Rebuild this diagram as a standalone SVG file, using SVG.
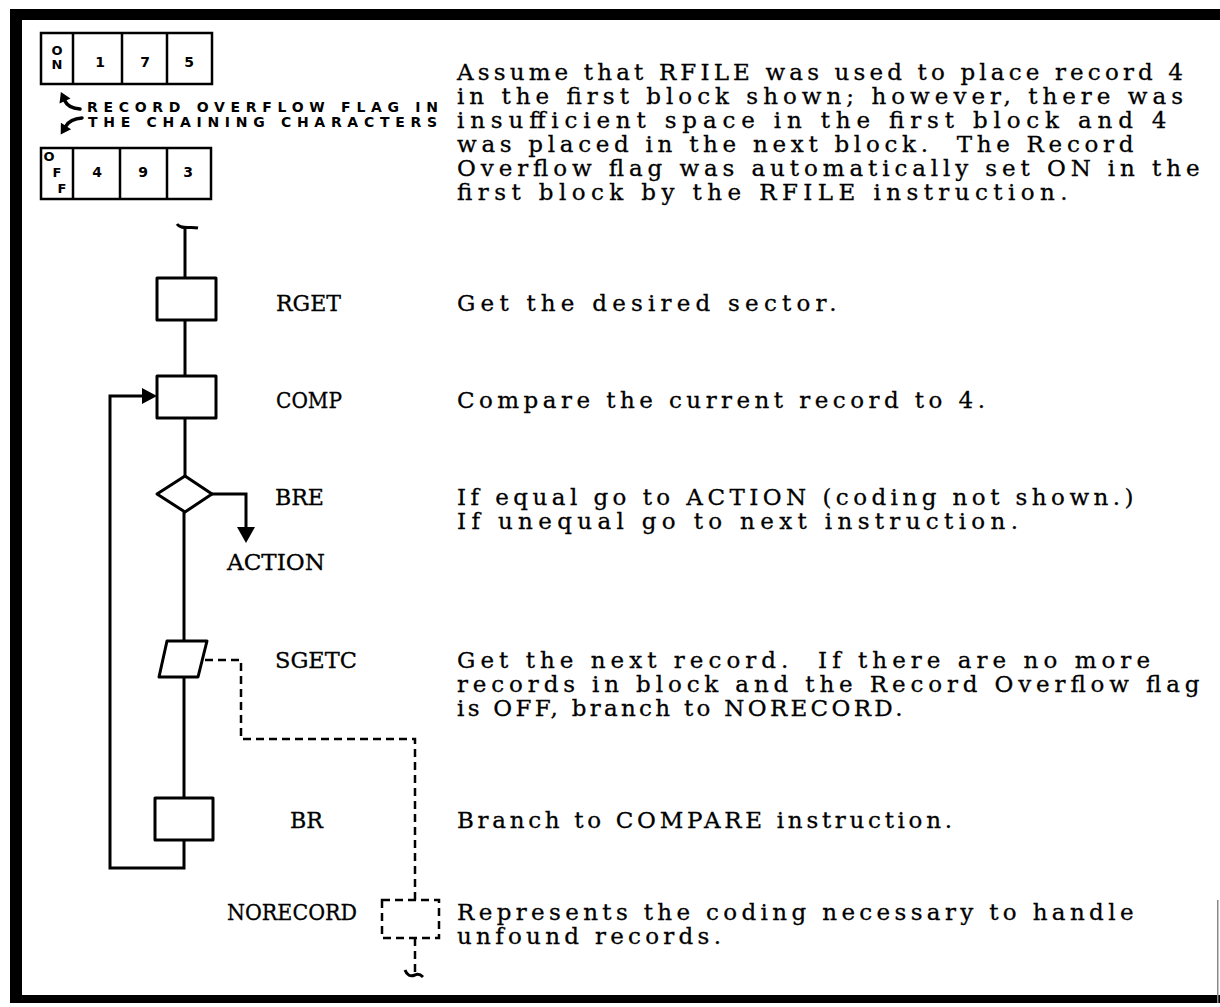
<svg xmlns="http://www.w3.org/2000/svg" width="1220" height="1007" viewBox="0 0 1220 1007">
  <style>
    .mono { font-family: "DejaVu Serif", "Liberation Serif", serif; font-size: 23px; fill: #000; stroke: #000; stroke-width: 0.3; white-space: pre; }
    .cap { font-family: "DejaVu Sans", "Liberation Sans", sans-serif; font-weight: bold; fill: #000; }
    .note { font-family: "DejaVu Sans", "Liberation Sans", sans-serif; font-weight: bold; font-size: 14px; fill: #000; }
    .box { fill: #fff; stroke: #000; stroke-width: 3; stroke-linejoin: round; }
    .cell { fill: #fff; stroke: #000; stroke-width: 2.5; }
    .line { fill: none; stroke: #000; stroke-width: 3; }
    .ptr { fill: none; stroke: #000; stroke-width: 3.5; stroke-linecap: round; }
    .dash { fill: none; stroke: #000; stroke-width: 2.5; stroke-dasharray: 8 5; }
  </style>

  <rect width="1220" height="1007" fill="#fff"/>

  <!-- page frame -->
  <g id="frame" fill="#000">
    <rect x="10" y="9" width="1210" height="11"/>
    <rect x="10" y="9" width="12" height="994"/>
    <rect x="10" y="995" width="1210" height="8"/>
    <rect x="1217" y="900" width="1.5" height="103" fill="#888"/>
  </g>

  <!-- chaining characters of the first block -->
  <g id="block-on">
    <rect class="cell" x="41" y="33" width="171" height="51"/>
    <line class="cell" x1="73" y1="33" x2="73" y2="84"/>
    <line class="cell" x1="122" y1="33" x2="122" y2="84"/>
    <line class="cell" x1="167" y1="33" x2="167" y2="84"/>
    <text class="cap" x="57" y="55" font-size="13" text-anchor="middle">O</text>
    <text class="cap" x="57" y="69" font-size="13" text-anchor="middle">N</text>
    <text class="cap" x="100" y="67" font-size="14" text-anchor="middle">1</text>
    <text class="cap" x="145" y="67" font-size="14" text-anchor="middle">7</text>
    <text class="cap" x="189" y="67" font-size="14" text-anchor="middle">5</text>
  </g>

  <!-- chaining characters of the next block -->
  <g id="block-off">
    <rect class="cell" x="41" y="148" width="170" height="51"/>
    <line class="cell" x1="73" y1="148" x2="73" y2="199"/>
    <line class="cell" x1="120" y1="148" x2="120" y2="199"/>
    <line class="cell" x1="167" y1="148" x2="167" y2="199"/>
    <text class="cap" x="49" y="161" font-size="13" text-anchor="middle">O</text>
    <text class="cap" x="57" y="177" font-size="13" text-anchor="middle">F</text>
    <text class="cap" x="62" y="193" font-size="13" text-anchor="middle">F</text>
    <text class="cap" x="97" y="177" font-size="14" text-anchor="middle">4</text>
    <text class="cap" x="143" y="177" font-size="14" text-anchor="middle">9</text>
    <text class="cap" x="188" y="177" font-size="14" text-anchor="middle">3</text>
  </g>

  <!-- flag note with its two pointers -->
  <g id="flag-note">
    <text class="note" x="87" y="112" textLength="351" lengthAdjust="spacing">RECORD OVERFLOW FLAG IN</text>
    <text class="note" x="88" y="127" textLength="349" lengthAdjust="spacing">THE CHAINING CHARACTERS</text>
    <path class="ptr" d="M80,109 Q68,108 65,101"/>
    <polygon points="70.5,98.5 59.5,103.5 60.9,91.9" fill="#000"/>
    <path class="ptr" d="M82,118 Q70,119 66,126"/>
    <polygon points="71.1,129.2 60.9,122.8 60.7,134.5" fill="#000"/>
  </g>

  <!-- flowchart nodes -->
  <g id="rget">
    <rect class="box" x="157" y="278" width="59" height="42"/>
    <text class="mono" x="276" y="311" textLength="65" lengthAdjust="spacingAndGlyphs">RGET</text>
  </g>
  <g id="comp">
    <rect class="box" x="157" y="376" width="59" height="42"/>
    <text class="mono" x="276" y="408" textLength="66" lengthAdjust="spacingAndGlyphs">COMP</text>
  </g>
  <g id="bre">
    <polygon class="box" points="185,476 212,494 185,512 157,494"/>
    <text class="mono" x="275" y="505" textLength="49" lengthAdjust="spacingAndGlyphs">BRE</text>
  </g>
  <g id="action">
    <text class="mono" x="227" y="570" textLength="98" lengthAdjust="spacingAndGlyphs">ACTION</text>
  </g>
  <g id="sgetc">
    <polygon class="box" points="167,641 207,641 198,677 159,677"/>
    <text class="mono" x="275" y="668" textLength="82" lengthAdjust="spacingAndGlyphs">SGETC</text>
  </g>
  <g id="br">
    <rect class="box" x="155" y="798" width="58" height="42"/>
    <text class="mono" x="290" y="828" textLength="33" lengthAdjust="spacingAndGlyphs">BR</text>
  </g>
  <g id="norecord">
    <rect class="dash" x="382" y="900" width="57" height="38"/>
    <text class="mono" x="227" y="920" textLength="130" lengthAdjust="spacingAndGlyphs">NORECORD</text>
  </g>

  <!-- connectors -->
  <g id="connectors">
    <path class="line" d="M177,224 C181,230 190,226 198,228"/>
    <line class="line" x1="185" y1="227" x2="185" y2="278"/>
    <line class="line" x1="185" y1="320" x2="185" y2="376"/>
    <line class="line" x1="185" y1="418" x2="185" y2="476"/>
    <line class="line" x1="184" y1="512" x2="184" y2="641"/>
    <line class="line" x1="184" y1="677" x2="184" y2="798"/>
    <path class="line" d="M212,494 H246 V529"/>
    <polygon points="237,527 255,527 246,543" fill="#000"/>
    <path class="line" d="M184,840 V868 H110 V396 H144"/>
    <polygon points="142,388 142,404 157,396" fill="#000"/>
    <path class="dash" d="M205,660 H241 V739 H415 V900"/>
    <path class="dash" d="M415,938 V974"/>
    <path class="line" stroke-width="2.5" d="M405,970 Q408,978 415,975 Q419,973 423,977"/>
  </g>

  <!-- explanatory text -->
  <g id="notes">
    <text class="mono" x="457" y="80" textLength="726" lengthAdjust="spacing">Assume that RFILE was used to place record 4</text>
    <text class="mono" x="457" y="104" textLength="726" lengthAdjust="spacing">in the first block shown; however, there was</text>
    <text class="mono" x="457" y="128" textLength="709.5" lengthAdjust="spacing">insufficient space in the first block and 4</text>
    <text class="mono" x="457" y="152" textLength="676.5" lengthAdjust="spacing">was placed in the next block.  The Record</text>
    <text class="mono" x="457" y="176" textLength="742.5" lengthAdjust="spacing">Overflow flag was automatically set ON in the</text>
    <text class="mono" x="457" y="200" textLength="610.5" lengthAdjust="spacing">first block by the RFILE instruction.</text>
    <text class="mono" x="457" y="311" textLength="379.5" lengthAdjust="spacing">Get the desired sector.</text>
    <text class="mono" x="457" y="408" textLength="528" lengthAdjust="spacing">Compare the current record to 4.</text>
    <text class="mono" x="457" y="505" textLength="676.5" lengthAdjust="spacing">If equal go to ACTION (coding not shown.)</text>
    <text class="mono" x="457" y="529" textLength="561" lengthAdjust="spacing">If unequal go to next instruction.</text>
    <text class="mono" x="457" y="668" textLength="693" lengthAdjust="spacing">Get the next record.  If there are no more</text>
    <text class="mono" x="457" y="692" textLength="742.5" lengthAdjust="spacing">records in block and the Record Overflow flag</text>
    <text class="mono" x="457" y="716" textLength="445.5" lengthAdjust="spacing">is OFF, branch to NORECORD.</text>
    <text class="mono" x="457" y="828" textLength="495" lengthAdjust="spacing">Branch to COMPARE instruction.</text>
    <text class="mono" x="457" y="920" textLength="676.5" lengthAdjust="spacing">Represents the coding necessary to handle</text>
    <text class="mono" x="457" y="944" textLength="264" lengthAdjust="spacing">unfound records.</text>
  </g>
</svg>
